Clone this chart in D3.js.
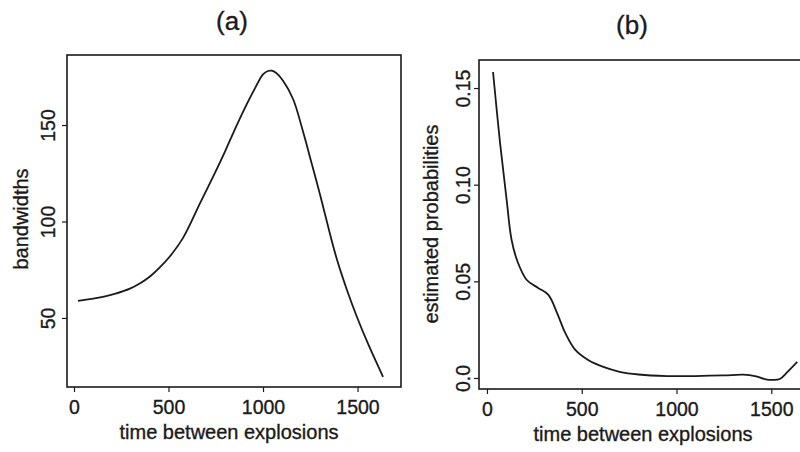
<!DOCTYPE html>
<html><head><meta charset="utf-8">
<script src="https://cdn.jsdelivr.net/npm/d3@7"></script>
<style>body{margin:0;background:#fff}svg{display:block}text{font-family:"Liberation Sans",Arial,sans-serif;fill:#1a1a1a;stroke:#1a1a1a;stroke-width:0.35px}</style>
</head><body><svg id="c" width="800" height="452"></svg>
<script>
// Panel (a): bandwidths vs time between explosions
const timeA = [21,153,220,296,350,402,450,508,577,667,740,800,850,900,960,1000,1026,1045,1070,1106,1159,1212,1259,1302,1344,1392,1444,1497,1556,1635];
const bandwidths = [58.8,60.9,62.6,65.2,68,71.5,75.8,82,91.5,109.5,124,136.5,147.5,158,169.5,176.3,178,178.2,177,173,163.5,146.5,129.5,113.8,97.5,80,64.5,50.5,36.5,19.5];
// Panel (b): estimated probabilities vs time between explosions
const timeB = [32,69,104,130,164,210,270,324,370,413,466,534,614,700,800,950,1100,1250,1352,1420,1470,1510,1545,1584,1637];
const probs = [0.1583,0.1216,0.092,0.0714,0.0595,0.0507,0.0466,0.043,0.0336,0.0233,0.0145,0.0093,0.0057,0.0032,0.0018,0.001,0.001,0.0013,0.0017,0.0008,-0.0007,-0.001,-0.0005,0.003,0.0083];
const xTicks = [0,500,1000,1500];
const yTicksA = [50,100,150];
const yTicksB = [0,0.05,0.10,0.15];
const yTickLabelsB = ["0.0","0.05","0.10","0.15"];
const titles = ["(a)","(b)"];
const xLabel = "time between explosions";
const yLabels = ["bandwidths","estimated probabilities"];

const svg = d3.select("#c");
const ink = "#1a1a1a";

function panel(o){
  const g = svg.append("g");
  const x = d3.scaleLinear().domain(o.xd).range([o.L,o.R]);
  const y = d3.scaleLinear().domain(o.yd).range([o.B,o.T]);
  g.append("rect").attr("x",o.L).attr("y",o.T).attr("width",o.R-o.L).attr("height",o.B-o.T)
    .attr("fill","none").attr("stroke",ink).attr("stroke-width",1.6);
  const xa = g.append("g").attr("transform",`translate(0,${o.B})`)
    .call(d3.axisBottom(x).tickValues(xTicks).tickSize(5).tickSizeOuter(0).tickPadding(8).tickFormat(d3.format("d")));
  xa.select(".domain").remove();
  xa.selectAll("line").attr("stroke",ink).attr("stroke-width",1.2);
  xa.selectAll("text").attr("font-size",19.5).attr("fill",ink).attr("dy","0.71em");
  const ya = g.append("g").attr("transform",`translate(${o.L},0)`)
    .call(d3.axisLeft(y).tickValues(o.yt).tickSize(5).tickSizeOuter(0).tickFormat((d,i)=>o.ytl[i]));
  ya.select(".domain").remove();
  ya.selectAll("line").attr("stroke",ink).attr("stroke-width",1.2);
  ya.selectAll("text").attr("font-size",19.5).attr("fill",ink)
    .attr("text-anchor","middle").attr("dy",null).attr("x",null)
    .attr("transform",`translate(${o.ylx - o.L},0) rotate(-90)`);
  const data = o.xs.map((t,i)=>[t,o.ys[i]]);
  g.append("path").datum(data).attr("fill","none").attr("stroke",ink).attr("stroke-width",1.8)
    .attr("stroke-linejoin","round")
    .attr("d",d3.line().x(d=>x(d[0])).y(d=>y(d[1])).curve(d3.curveCatmullRom.alpha(0.5)));
  g.append("text").attr("x",o.xlx).attr("y",o.B+52).attr("text-anchor","middle")
    .attr("font-size",20).text(xLabel);
  g.append("text").attr("transform",`translate(${o.yLabX},${o.yLabY}) rotate(-90)`).attr("text-anchor","middle")
    .attr("font-size",20).text(o.ylab);
  g.append("text").attr("x",o.tx).attr("y",o.ty).attr("text-anchor","middle").attr("font-size",26).text(o.title);
}

panel({L:67,R:401,T:55,B:387,xd:[-37,1730],yd:[14.2,186.3],xs:timeA,ys:bandwidths,xlx:229,
  yt:yTicksA,ytl:yTicksA.map(String),ylx:55,yLabX:28,yLabY:219,ylab:yLabels[0],title:titles[0],tx:232,ty:30});
panel({L:479,R:813,T:60,B:389,xd:[-42,1720],yd:[-0.0057,0.1645],xs:timeB,ys:probs,xlx:643,
  yt:yTicksB,ytl:yTickLabelsB,ylx:470,yLabX:438,yLabY:224,ylab:yLabels[1],title:titles[1],tx:632,ty:34});
</script></body></html>
